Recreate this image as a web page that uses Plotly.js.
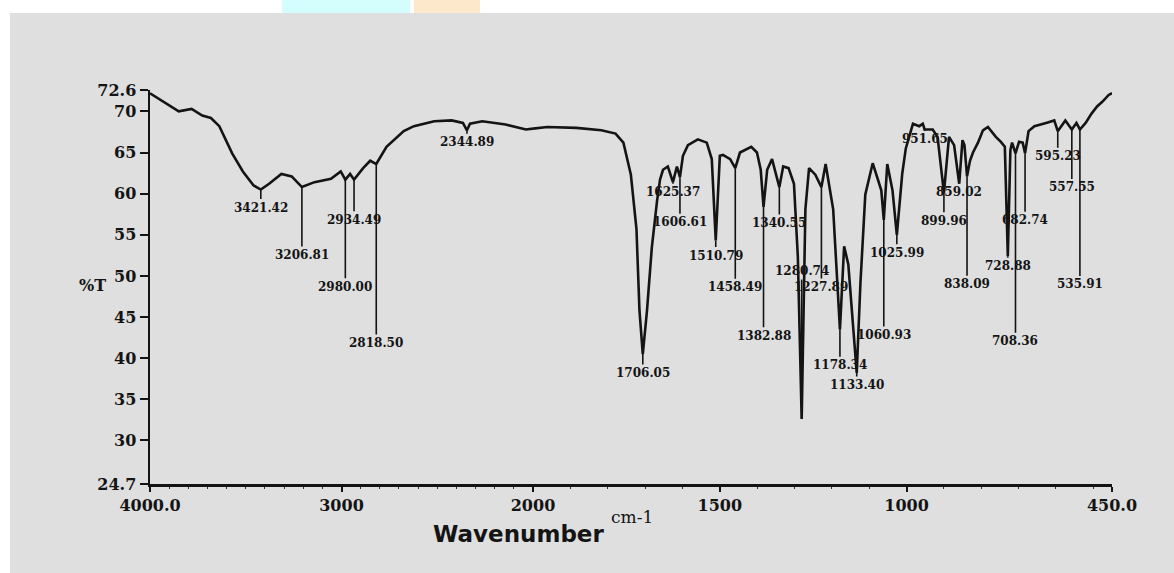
<!DOCTYPE html>
<html>
<head>
<meta charset="utf-8">
<script src="https://cdn.plot.ly/plotly-3.0.1.min.js"></script>
<style>html,body{margin:0;padding:0;background:#fff;}#chart{width:1174px;height:573px;}</style>
</head>
<body>
<div id="chart"></div>
<script>
// ---- data (wavenumber in cm-1, transmittance in %T) ----
const wavenumber = [
  4000, 3850, 3783, 3727, 3682, 3638, 3571, 3515, 3459, 3421.42,
  3378, 3314, 3260, 3206.81, 3141, 3055, 3004, 2980.00, 2955, 2934.49,
  2887, 2850, 2818.50, 2765, 2675, 2622, 2516, 2425, 2366, 2344.89,
  2329, 2265, 2143, 2037, 2000, 1962, 1884, 1817, 1779, 1758,
  1738, 1723, 1715, 1706.05, 1695, 1682, 1668, 1660, 1652, 1639,
  1625.37, 1614.7, 1606.61, 1598.6, 1585.3, 1558.7, 1534.8, 1521.4, 1510.79, 1499.8,
  1491.5, 1472.2, 1458.49, 1445.9, 1415.7, 1400.5, 1390.4, 1382.88, 1373.1, 1360.1,
  1340.55, 1330.2, 1315.8, 1301.4, 1291.0, 1280.74, 1270.8, 1261, 1244.2, 1227.89,
  1216.6, 1196.4, 1178.34, 1167.1, 1155.9, 1133.40, 1123.5, 1110.4, 1090.6, 1067.6,
  1060.93, 1051.6, 1037.6, 1025.99, 1011.6, 1002, 982.8, 966, 956.5, 951.65,
  930, 917, 899.96, 886.3, 872.7, 859.02, 850.3, 845, 838.09, 830.1,
  822.1, 808.8, 795.5, 782.2, 761, 747.5, 736.9, 728.88, 722, 717.5,
  708.36, 698.8, 689.1, 682.74, 673.4, 657.7, 626.5, 604.6, 595.23, 574.9,
  557.55, 545.2, 535.91, 520.6, 505.2, 490, 475.3, 459, 450
];
const transmittance = [
  72.2, 70.0, 70.3, 69.5, 69.2, 68.2, 64.9, 62.7, 61.0, 60.5,
  61.2, 62.4, 62.1, 60.8, 61.4, 61.8, 62.7, 61.7, 62.4, 61.7,
  63.1, 64.0, 63.6, 65.7, 67.6, 68.2, 68.8, 68.9, 68.6, 67.7,
  68.5, 68.8, 68.4, 67.8, 67.9, 68.1, 68.0, 67.7, 67.3, 66.2,
  62.3, 55.7, 45.8, 40.5, 45.7, 53.4, 59.1, 61.7, 62.9, 63.3,
  61.4, 63.3, 62.0, 64.6, 65.9, 66.6, 66.2, 64.2, 54.3, 64.6,
  64.7, 64.2, 63.1, 65.0, 65.7, 65.0, 62.9, 58.4, 62.9, 64.2,
  60.8, 63.3, 63.1, 61.2, 52.3, 32.6, 58.1, 63.1, 62.3, 60.8,
  63.6, 58.1, 43.5, 53.6, 51.4, 38.2, 49.1, 59.9, 63.7, 60.4,
  56.8, 63.6, 60.4, 55.0, 62.4, 65.5, 68.5, 68.2, 68.5, 67.8,
  67.8, 66.9, 60.1, 66.9, 65.9, 61.2, 66.5, 65.9, 62.1, 64.0,
  65.0, 66.2, 67.7, 68.1, 66.9, 66.3, 65.7, 52.4, 65.3, 66.2,
  64.9, 66.3, 66.2, 64.9, 67.6, 68.2, 68.6, 68.9, 67.6, 68.9,
  67.8, 68.6, 67.8, 68.6, 69.7, 70.6, 71.2, 72.0, 72.2
];
const peakLabels = [
  '3421.42', '3206.81', '2980.00', '2934.49', '2818.50', '2344.89',
  '1706.05', '1625.37', '1606.61', '1510.79', '1458.49', '1382.88', '1340.55',
  '1280.74', '1227.89', '1178.34', '1133.40', '1060.93', '1025.99', '951.65',
  '899.96', '859.02', '838.09', '728.88', '708.36', '682.74', '595.23', '557.55', '535.91'
];
const peakWavenumbers = [
  3421.42, 3206.81, 2980.00, 2934.49, 2818.50, 2344.89,
  1706.05, 1625.37, 1606.61, 1510.79, 1458.49, 1382.88, 1340.55,
  1280.74, 1227.89, 1178.34, 1133.40, 1060.93, 1025.99, 951.65,
  899.96, 859.02, 838.09, 728.88, 708.36, 682.74, 595.23, 557.55, 535.91
];
const yTickValues = [24.7, 30, 35, 40, 45, 50, 55, 60, 65, 70, 72.6];
const yTickLabels = ['24.7', '30', '35', '40', '45', '50', '55', '60', '65', '70', '72.6'];
const xTickValuesHigh = [4000, 3000];
const xTickLabelsHigh = ['4000.0', '3000'];
const xTickValuesLow = [2000, 1500, 1000, 450];
const xTickLabelsLow = ['2000', '1500', '1000', '450.0'];
const scaleBreak = 2000;

// ---- layout settings (label leader lengths in px, not data) ----
const leaderPx = {
  '3421.42': 18, '3206.81': 68, '2980.00': 107, '2934.49': 40, '2818.50': 179, '2344.89': 12,
  '1706.05': 19, '1625.37': 10, '1606.61': 45, '1510.79': 15, '1458.49': 119, '1382.88': 129,
  '1340.55': 36, '1280.74': -148, '1227.89': 100, '1178.34': 36, '1133.40': 12, '1060.93': 115,
  '1025.99': 18, '951.65': 10, '899.96': 28, '859.02': 8, '838.09': 108, '728.88': 10,
  '708.36': 188, '682.74': 67, '595.23': 25, '557.55': 58, '535.91': 155
};

const ink = '#141414';
const serif = 'DejaVu Serif, Liberation Serif, serif';

const hiX = [], hiY = [], loX = [], loY = [];
wavenumber.forEach((w, i) => {
  if (w >= scaleBreak) { hiX.push(w); hiY.push(transmittance[i]); }
  if (w <= scaleBreak) { loX.push(w); loY.push(transmittance[i]); }
});

const lineStyle = {color: ink, width: 2.6};
const traces = [
  {x: hiX, y: hiY, xaxis: 'x', yaxis: 'y', mode: 'lines', line: lineStyle, hoverinfo: 'skip'},
  {x: loX, y: loY, xaxis: 'x2', yaxis: 'y', mode: 'lines', line: lineStyle, hoverinfo: 'skip'}
];

const annotations = peakLabels.map((lab, i) => {
  const w = peakWavenumbers[i];
  const idx = wavenumber.indexOf(w);
  return {
    x: w, y: transmittance[idx],
    xref: w >= scaleBreak ? 'x' : 'x2', yref: 'y',
    text: '<b>' + lab + '</b>', showarrow: true, arrowhead: 0, arrowwidth: 1.6, arrowcolor: ink,
    ax: 0, ay: leaderPx[lab], standoff: 0, startstandoff: 0,
    font: {family: serif, size: 12, color: ink}
  };
});

// plot area: x from 150 to 1112 px, y from 90 to 484 px
const pw = 962, ph = 394, L = 150, T = 90;
const px = v => (v - L) / pw;
const py = v => (T + ph - v) / ph;

annotations.push(
  {xref: 'paper', yref: 'paper', x: px(77), y: py(285), text: '<b>%T</b>', showarrow: false,
   font: {family: serif, size: 16, color: ink}},
  {xref: 'paper', yref: 'paper', x: px(632), y: py(529), text: 'cm-1', showarrow: false,
   font: {family: serif, size: 17, color: ink}},
  {xref: 'paper', yref: 'paper', x: px(518), y: py(549), text: '<b>Wavenumber</b>', showarrow: false,
   font: {family: 'DejaVu Sans, Liberation Sans, sans-serif', size: 23, color: ink}}
);

const axisCommon = {
  showline: true, linecolor: ink, linewidth: 2.5,
  ticks: 'outside', ticklen: 5, tickwidth: 2, tickcolor: ink,
  tickmode: 'array', showgrid: false, zeroline: false, fixedrange: true,
  tickfont: {family: serif, size: 16, color: ink, weight: 'bold'},
  minor: {ticks: 'outside', ticklen: 2, tickwidth: 1, tickcolor: '#333', dtick: 100, showgrid: false}
};

const layout = {
  width: 1174, height: 573,
  margin: {l: L, r: 1174 - L - pw, t: T, b: 573 - T - ph, pad: 0},
  paper_bgcolor: '#ffffff', plot_bgcolor: 'rgba(0,0,0,0)',
  showlegend: false,
  xaxis: Object.assign({}, axisCommon, {
    domain: [0, (533 - L) / pw], range: [4000, scaleBreak], anchor: 'y',
    tickvals: xTickValuesHigh, ticktext: xTickLabelsHigh
  }),
  xaxis2: Object.assign({}, axisCommon, {
    domain: [(533 - L) / pw, 1], range: [scaleBreak, 450], anchor: 'y',
    tickvals: xTickValuesLow, ticktext: xTickLabelsLow
  }),
  yaxis: {
    range: [24.7, 72.6], anchor: 'x',
    showline: true, linecolor: ink, linewidth: 2.5,
    ticks: 'outside', ticklen: 8, tickwidth: 2, tickcolor: ink,
    tickmode: 'array', tickvals: yTickValues, ticktext: yTickLabels,
    tickfont: {family: serif, size: 16, color: ink, weight: 'bold'},
    showgrid: false, zeroline: false, fixedrange: true
  },
  shapes: [
    {type: 'rect', xref: 'paper', yref: 'paper', layer: 'below',
     x0: px(10), x1: px(1174), y0: py(573), y1: py(13),
     fillcolor: '#dfdfdf', line: {width: 0}},
    {type: 'rect', xref: 'paper', yref: 'paper', layer: 'below',
     x0: px(282), x1: px(410), y0: py(13), y1: py(0),
     fillcolor: '#d4fdfd', line: {width: 0}},
    {type: 'rect', xref: 'paper', yref: 'paper', layer: 'below',
     x0: px(414), x1: px(480), y0: py(13), y1: py(0),
     fillcolor: '#fde8cc', line: {width: 0}}
  ],
  annotations: annotations
};

Plotly.newPlot('chart', traces, layout, {displayModeBar: false, staticPlot: true});
</script>
</body>
</html>
